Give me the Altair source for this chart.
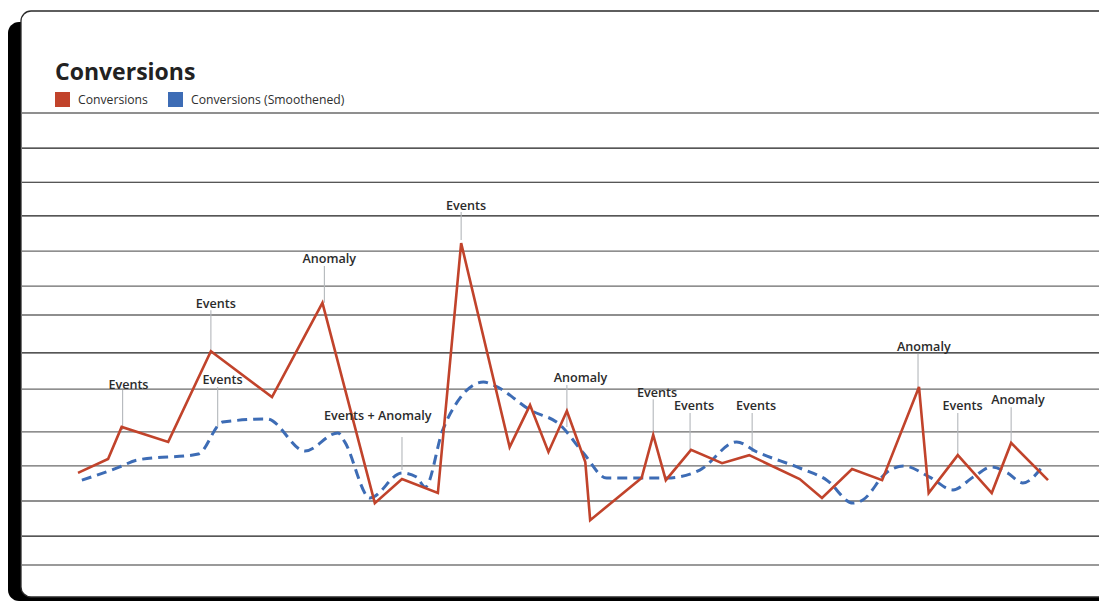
import altair as alt
import pandas as pd

# ---------------- data ----------------
series_names = ["Conversions", "Conversions (Smoothened)"]
series_colors = ["#C1432B", "#3D6CB5"]

conv_day = [0, 3.1, 4.5, 9.3, 13.7, 20.0, 25.2, 30.6, 33.4, 37.1,
            39.5, 44.5, 46.6, 48.5, 50.4, 52.3, 52.8, 58.1, 59.3, 60.6,
            63.2, 66.4, 69.2, 74.4, 76.7, 79.8, 82.9, 86.7, 87.7, 90.7,
            94.2, 96.2, 100]
conv_val = [265, 305, 397, 354, 615, 483, 754, 178, 247, 207,
            926, 339, 460, 325, 443, 296, 129, 250, 374, 244,
            331, 293, 316, 247, 193, 276, 244, 512, 207, 316,
            207, 351, 244]

smooth_day = [0.4, 4.3, 6.1, 12.4, 14.9, 19.5, 23.4, 26.8, 27.5, 30.1,
              33.4, 34.9, 35.8, 37.6, 39.1, 41.8, 43.0, 46.6, 49.7, 52.1,
              54.5, 60.7, 64.1, 67.9, 70.0, 74.4, 77.2, 79.9, 80.9, 83.4,
              85.1, 87.8, 90.2, 92.3, 94.2, 95.8, 97.4, 99.4]
smooth_val = [244, 282, 302, 319, 411, 420, 328, 380, 354, 193,
              265, 253, 224, 388, 469, 526, 515, 446, 403, 322,
              250, 250, 273, 354, 325, 279, 244, 178, 187, 267,
              285, 253, 216, 253, 282, 265, 236, 282]

ann_label = ["Events", "Events", "Events", "Anomaly", "Events + Anomaly", "Events",
             "Anomaly", "Events", "Events", "Events", "Anomaly", "Events", "Anomaly"]
ann_day = [4.6, 13.7, 14.4, 25.4, 33.4, 39.5, 50.4, 59.3, 63.1, 69.5, 86.6, 90.7, 96.2]
ann_top = [503, 733, 512, 860, 368, 1015, 518, 477, 437, 437, 607, 437, 454]
ann_bottom = [388, 615, 397, 754, 273, 935, 397, 377, 331, 325, 509, 319, 351]
ann_label_day = [5.2, 14.2, 14.9, 25.9, 30.9, 40.0, 51.8, 59.7, 63.5, 69.9, 87.2, 91.2, 96.9]
ann_label_val = [518, 751, 532, 880, 429, 1032, 538, 495, 457, 457, 627, 457, 475]

grid_dark = [1199, 1101, 1004, 719, 610, 83]
grid_gray = [1300, 903, 802, 506, 383, 285, 184]
grid_base = [0]

title_text = "Conversions"

# ---------------- tables ----------------
conv_df = pd.DataFrame({"day": conv_day, "value": conv_val, "series": series_names[0]})
smooth_df = pd.DataFrame({"day": smooth_day, "value": smooth_val, "series": series_names[1]})
ann_df = pd.DataFrame({"label": ann_label, "day": ann_day, "top": ann_top,
                       "bottom": ann_bottom, "lday": ann_label_day, "lval": ann_label_val})
legend_df = pd.DataFrame({"series": series_names, "day": [conv_day[0], smooth_day[0]],
                          "value": [conv_val[0], smooth_val[0]]})
one = pd.DataFrame({"k": [0]})

FONT = "Open Sans"
xs = alt.Scale(domain=[0, 100], nice=False, zero=False)
ys = alt.Scale(domain=[0, 1300], nice=False, zero=False)
X = alt.X("day:Q", scale=xs, axis=None)
Y = alt.Y("value:Q", scale=ys, axis=None)

shadow = alt.Chart(one).mark_rect(fill="#000000", cornerRadius=11).encode(
    x=alt.value(-70), x2=alt.value(1100), y=alt.value(-91), y2=alt.value(488))
card = alt.Chart(one).mark_rect(fill="#ffffff", stroke="#2a2a2a", strokeWidth=1.3,
                                cornerRadius=10).encode(
    x=alt.value(-57), x2=alt.value(1100), y=alt.value(-102), y2=alt.value(484))

def grid(values, color, width):
    return alt.Chart(pd.DataFrame({"value": values})).mark_rule(
        color=color, strokeWidth=width).encode(
        y=alt.Y("value:Q", scale=ys, axis=None), x=alt.value(-56), x2=alt.value(1030))

g1 = grid(grid_dark, "#1e1e1e", 1.1)
g2 = grid(grid_gray, "#6a6a6a", 1.3)
g3 = grid(grid_base, "#9a9a9a", 1.8)

ann_rules = alt.Chart(ann_df).mark_rule(color="#b3b7bb", strokeWidth=1.1).encode(
    x=alt.X("day:Q", scale=xs, axis=None),
    y=alt.Y("top:Q", scale=ys, axis=None), y2="bottom:Q")

blue = alt.Chart(smooth_df).mark_line(color=series_colors[1], strokeWidth=3,
                                      strokeDash=[10, 6], interpolate="monotone").encode(x=X, y=Y)
red = alt.Chart(conv_df).mark_line(color=series_colors[0], strokeWidth=2.6,
                                   strokeJoin="miter").encode(x=X, y=Y)

legend_layer = alt.Chart(legend_df).mark_square(size=225, opacity=0).encode(
    x=X, y=Y,
    color=alt.Color("series:N",
                    scale=alt.Scale(domain=series_names, range=series_colors),
                    legend=alt.Legend(orient="none", legendX=-23, legendY=-21,
                                      direction="horizontal", title=None,
                                      symbolType="square", symbolSize=225,
                                      symbolStrokeWidth=0, symbolOpacity=1,
                                      labelFont=FONT, labelFontSize=12.2,
                                      labelColor="#2e2e2e", labelOffset=8,
                                      columnPadding=20, padding=0)))

ann_text = alt.Chart(ann_df).mark_text(font=FONT, fontSize=12.6, fontWeight=600,
                                       color="#2b2b2b", align="center",
                                       baseline="middle").encode(
    x=alt.X("lday:Q", scale=xs, axis=None),
    y=alt.Y("lval:Q", scale=ys, axis=None), text="label:N")

title = alt.Chart(one).mark_text(text=title_text, font=FONT, fontSize=23,
                                 fontWeight="bold", color="#222222", align="left",
                                 baseline="alphabetic").encode(
    x=alt.value(-23), y=alt.value(-33))

chart = alt.layer(shadow, card, g1, g2, g3, ann_rules, blue, red, legend_layer,
                  ann_text, title).properties(
    width=970, height=452,
    padding={"left": 78, "top": 113, "right": 51, "bottom": 37},
    autosize=alt.AutoSizeParams(type="none"),
    background="#ffffff",
).configure_view(stroke=None)

chart.save("out.html", embed_options={"renderer": "svg", "actions": False})
